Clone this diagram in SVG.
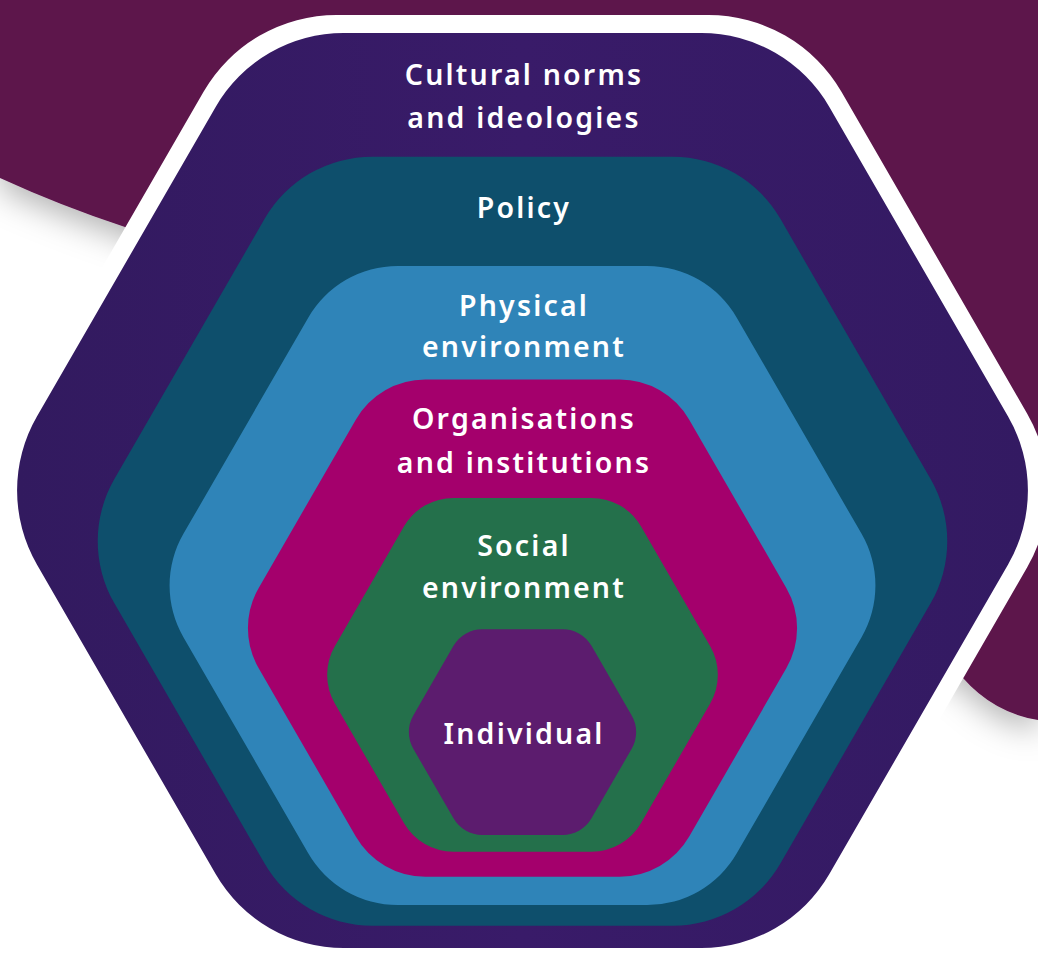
<svg xmlns="http://www.w3.org/2000/svg" xmlns:xlink="http://www.w3.org/1999/xlink" width="1038" height="958" viewBox="0 0 1038 958">
  <defs>
    <path id="hex" d="M0.91917,0.14 L0.58083,0.72603 A0.28,0.28 0 0 1 0.33834,0.86603 L-0.33834,0.86603 A0.28,0.28 0 0 1 -0.58083,0.72603 L-0.91917,0.14 A0.28,0.28 0 0 1 -0.91917,-0.14 L-0.58083,-0.72603 A0.28,0.28 0 0 1 -0.33834,-0.86603 L0.33834,-0.86603 A0.28,0.28 0 0 1 0.58083,-0.72603 L0.91917,-0.14 A0.28,0.28 0 0 1 0.91917,0.14 Z"/>
    <filter id="blobShadow" x="-20%" y="-20%" width="140%" height="160%">
      <feDropShadow dx="0" dy="10" stdDeviation="16" flood-color="#000" flood-opacity="0.3"/>
    </filter>
    <filter id="hexShadow" x="-10%" y="-10%" width="120%" height="120%">
      <feDropShadow dx="0" dy="6" stdDeviation="10" flood-color="#000" flood-opacity="0.12"/>
    </filter>
    <linearGradient id="outerGrad" x1="0" y1="0" x2="1" y2="0">
      <stop offset="0" stop-color="#321a5f"/>
      <stop offset="0.5" stop-color="#391b69"/>
      <stop offset="1" stop-color="#331a62"/>
    </linearGradient>
  </defs>
  <style>
    .lbl { font-family: "Noto Sans", "Open Sans", "DejaVu Sans", sans-serif; font-weight: 600; font-size: 28.5px; fill: #ffffff; text-anchor: middle; letter-spacing: 2.2px; }
  </style>

  <rect x="0" y="0" width="1038" height="958" fill="#ffffff"/>

  <!-- maroon background blob -->
  <path id="background" filter="url(#blobShadow)" fill="#5d144b"
        d="M0,0 H1038 V720.1 A129,129 0 0 1 963,678 L522,420 L125,227 A1200,1200 0 0 1 0,178 Z"/>

  <!-- white outer frame -->
  <use xlink:href="#hex" href="#hex" transform="translate(522.5,490.5) scale(549.1)" fill="#ffffff" filter="url(#hexShadow)"/>

  <g id="connectors"/>

  <g id="cultural">
    <use xlink:href="#hex" href="#hex" transform="translate(522.5,490.5) scale(528.3)" fill="url(#outerGrad)"/>
    <text class="lbl" x="524" y="85">Cultural norms</text>
    <text class="lbl" x="524" y="128">and ideologies</text>
  </g>

  <g id="policy">
    <use xlink:href="#hex" href="#hex" transform="translate(522.5,541.2) scale(444)" fill="#0e4f6c"/>
    <text class="lbl" x="524" y="218">Policy</text>
  </g>

  <g id="physical">
    <use xlink:href="#hex" href="#hex" transform="translate(522.5,585.5) scale(368.9)" fill="#2f84b8"/>
    <text class="lbl" x="524" y="316">Physical</text>
    <text class="lbl" x="524" y="357">environment</text>
  </g>

  <g id="organisations">
    <use xlink:href="#hex" href="#hex" transform="translate(522.5,628.1) scale(287)" fill="#a4006c"/>
    <text class="lbl" x="524" y="429">Organisations</text>
    <text class="lbl" x="524" y="472.5">and institutions</text>
  </g>

  <g id="social">
    <use xlink:href="#hex" href="#hex" transform="translate(522.5,674.8) scale(204.2)" fill="#24704b"/>
    <text class="lbl" x="524" y="556">Social</text>
    <text class="lbl" x="524" y="598">environment</text>
  </g>

  <g id="individual">
    <use xlink:href="#hex" href="#hex" transform="translate(522.5,732.1) scale(118.8)" fill="#5c1c6e"/>
    <text class="lbl" x="524" y="744">Individual</text>
  </g>
</svg>
